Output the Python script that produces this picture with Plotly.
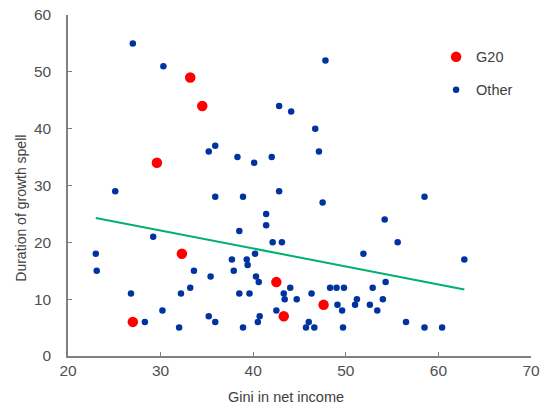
import plotly.graph_objects as go

# G20 countries
g20_gini = [33.2, 34.5, 29.6, 32.3, 27.0, 42.5, 43.3, 47.6]
g20_duration = [49, 44, 34, 18, 6, 13, 7, 9]

# Other countries
other_gini = [27.0, 30.3, 35.2, 35.9, 47.8, 42.8, 44.1, 46.7, 47.1, 38.3, 40.1, 42.0,
              25.1, 35.9, 29.2, 23.0, 23.1, 33.6, 35.4, 26.8, 32.2, 33.2, 30.2, 28.3,
              32.0, 35.2, 35.9, 38.9, 42.8, 47.5, 41.4, 41.4, 38.5, 42.1, 43.1, 40.2,
              37.7, 39.3, 39.4, 37.9, 40.3, 40.6, 44.0, 43.3, 43.4, 44.7, 38.5, 39.6,
              46.3, 48.3, 49.0, 49.8, 49.1, 49.6, 51.2, 51.0, 42.5, 40.7, 40.5, 38.9,
              46.0, 45.7, 46.6, 49.7, 58.5, 54.2, 55.6, 51.9, 62.8, 54.3, 52.9, 54.0,
              52.6, 53.4, 56.5, 58.5, 60.4]
other_duration = [55, 51, 36, 37, 52, 44, 43, 40, 36, 35, 34, 35,
                  29, 28, 21, 18, 15, 15, 14, 11, 11, 12, 8, 6,
                  5, 7, 6, 28, 29, 27, 25, 23, 22, 20, 20, 18,
                  17, 17, 16, 15, 14, 13, 12, 11, 10, 10, 11, 11,
                  11, 12, 12, 12, 9, 8, 10, 9, 8, 7, 6, 5,
                  6, 5, 5, 5, 28, 24, 20, 18, 17, 13, 12, 10,
                  9, 8, 6, 5, 5]

# Trend line end points
trend_gini = [23.0, 62.8]
trend_duration = [24.3, 11.7]

x_ticks = [20, 30, 40, 50, 60, 70]
y_ticks = [0, 10, 20, 30, 40, 50, 60]

x_title = "Gini in net income"
y_title = "Duration of growth spell"

fig = go.Figure()
fig.add_trace(go.Scatter(x=trend_gini, y=trend_duration, mode="lines", showlegend=False,
                         line=dict(color="#00B070", width=2)))
fig.add_trace(go.Scatter(x=g20_gini, y=g20_duration, mode="markers", name="G20",
                         legendgroup="g20",
                         marker=dict(color="#FF0000", size=10.5)))
fig.add_trace(go.Scatter(x=other_gini, y=other_duration, mode="markers", name="Other",
                         legendgroup="other",
                         marker=dict(color="#0033A0", size=6.5)))

axis_common = dict(showline=True, linecolor="#808080", linewidth=1.5, ticks="inside",
                   ticklen=4, tickcolor="#808080", tickwidth=1, showgrid=False,
                   zeroline=False, automargin=False,
                   tickfont=dict(family="Liberation Sans, Arial", size=15.5, color="#505050"))

fig.update_xaxes(range=[20, 70], tickvals=x_ticks, ticklabelstandoff=0, **axis_common)
fig.update_yaxes(range=[0, 60], tickvals=y_ticks, ticklabelstandoff=12, **axis_common)

title_font = dict(family="Liberation Sans, Arial", color="#404040")
fig.add_annotation(text=x_title, xref="paper", yref="paper", x=0.471, y=-0.1215,
                   xanchor="center", yanchor="middle", showarrow=False,
                   font=dict(size=14.5, **title_font))
fig.add_annotation(text=y_title, xref="paper", yref="paper", x=-0.1015, y=0.432,
                   xanchor="center", yanchor="middle", showarrow=False, textangle=-90,
                   font=dict(size=14, **title_font))

fig.update_layout(
    width=547, height=409,
    margin=dict(l=68, r=16, t=15, b=52.5),
    plot_bgcolor="white", paper_bgcolor="white",
    showlegend=True,
    legend=dict(x=0.795, y=0.924, xanchor="left", yanchor="top",
                font=dict(family="Liberation Sans, Arial", size=14.5, color="#404040"),
                tracegroupgap=11, traceorder="grouped", itemwidth=30,
                bgcolor="rgba(0,0,0,0)"),
)

fig.write_html("out.html", config={"displayModeBar": False},
               post_script="document.body.style.margin='0';")
